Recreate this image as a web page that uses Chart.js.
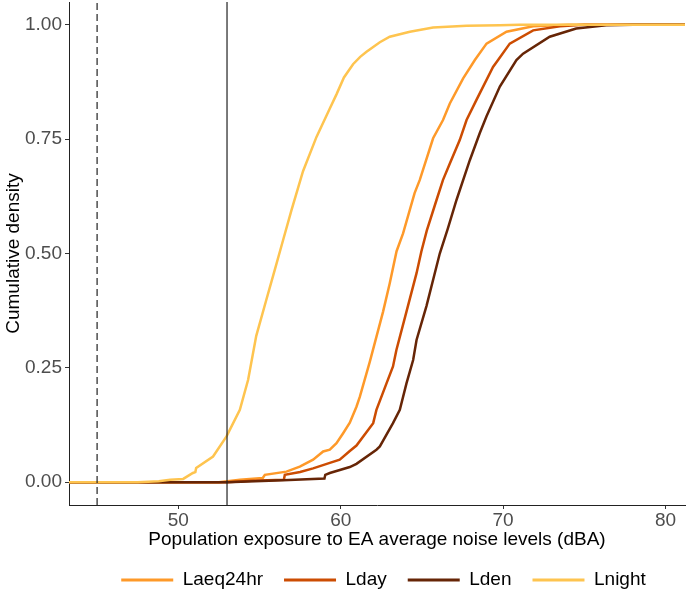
<!DOCTYPE html>
<html>
<head>
<meta charset="utf-8">
<script src="https://cdn.jsdelivr.net/npm/chart.js@4.4.1/dist/chart.umd.min.js"></script>
<style>
  html, body { margin: 0; padding: 0; background: #fff; }
</style>
</head>
<body>
<canvas id="ecdfChart" width="688" height="594"></canvas>
<script>
// series (x = dBA, y = cumulative density)
const seriesNames = ['Laeq24hr', 'Lday', 'Lden', 'Lnight'];
const seriesColors = ['#FE9929', '#CC4C02', '#662506', '#FEC44F'];

const laeqX = [43, 52.5, 53.8, 55.2, 55.33, 56.66, 57.48, 58.3, 58.92, 59.33, 59.74, 60.15, 60.56, 60.97, 61.18, 61.79, 62.61, 63.02, 63.44, 63.84, 64.55, 64.87, 65.69, 66.3, 66.72, 67.54, 68.26, 68.98, 70.21, 71.85, 74, 82];
const laeqY = [0, 0, 0.005, 0.009, 0.016, 0.023, 0.034, 0.049, 0.067, 0.071, 0.085, 0.107, 0.13, 0.165, 0.187, 0.263, 0.373, 0.435, 0.505, 0.544, 0.632, 0.661, 0.752, 0.792, 0.828, 0.883, 0.923, 0.959, 0.985, 0.997, 1, 1];

const ldayX = [43, 53, 54.5, 56.5, 56.56, 57.5, 58.3, 59.33, 59.94, 60.56, 60.97, 62.0, 62.2, 62.82, 63.22, 63.43, 64.05, 64.67, 64.97, 65.3, 65.9, 66.3, 66.72, 67.33, 67.75, 68.36, 69.38, 69.69, 70.41, 71.85, 73.5, 75, 82];
const ldayY = [0, 0, 0.003, 0.005, 0.016, 0.022, 0.03, 0.042, 0.049, 0.068, 0.08, 0.129, 0.158, 0.216, 0.253, 0.289, 0.373, 0.457, 0.505, 0.55, 0.617, 0.661, 0.697, 0.748, 0.792, 0.836, 0.908, 0.923, 0.959, 0.988, 0.997, 1, 1];

const ldenX = [43, 53, 56.45, 59.0, 59.05, 59.33, 60.56, 60.97, 62.2, 62.41, 63.22, 63.64, 64.05, 64.46, 64.67, 65.28, 66.1, 66.6, 67.13, 67.95, 68.56, 68.98, 69.8, 70.82, 71.23, 72.87, 74.5, 76.35, 78, 82];
const ldenY = [0, 0, 0.004, 0.008, 0.016, 0.02, 0.033, 0.04, 0.071, 0.078, 0.129, 0.158, 0.216, 0.267, 0.311, 0.385, 0.5, 0.555, 0.617, 0.704, 0.763, 0.8, 0.865, 0.923, 0.937, 0.974, 0.992, 0.999, 1, 1];

const lnightX = [43, 47.5, 48.8, 49.5, 50.3, 50.9, 51.05, 51.1, 52.14, 52.97, 53.79, 54.3, 54.8, 55.43, 55.94, 56.45, 56.97, 57.68, 58.51, 59.33, 59.74, 60.2, 60.76, 61.2, 61.59, 62.41, 63.02, 64.26, 65.69, 67.75, 69.8, 71, 82];
const lnightY = [0, 0, 0.002, 0.005, 0.007, 0.02, 0.022, 0.031, 0.056, 0.1, 0.158, 0.224, 0.32, 0.4, 0.464, 0.529, 0.595, 0.68, 0.755, 0.817, 0.848, 0.885, 0.914, 0.93, 0.941, 0.962, 0.974, 0.985, 0.994, 0.998, 0.999, 1, 1];

const xTicks = [50, 60, 70, 80];
const yTicks = [0, 0.25, 0.5, 0.75, 1];
const dashedRef = 45;
const solidRef = 53;

const xMin = 43.27, xMax = 81.2;
const yMin = -0.05, yMax = 1.05;
const FONT = "'Liberation Sans', Arial, Helvetica, sans-serif";

function toPoints(xs, ys) {
    return xs.map((x, i) => ({ x: x, y: ys[i] }));
}

const allX = [laeqX, ldayX, ldenX, lnightX];
const allY = [laeqY, ldayY, ldenY, lnightY];

const datasets = seriesNames.map((name, i) => ({
    label: name,
    data: toPoints(allX[i], allY[i]),
    borderColor: seriesColors[i],
    backgroundColor: seriesColors[i],
    borderWidth: 2.5,
    pointRadius: 0,
    showLine: true,
    tension: 0,
    order: 4 - i
}));

datasets.push({
    label: 'ref45',
    data: [{ x: dashedRef, y: yMin }, { x: dashedRef, y: yMax }],
    borderColor: '#222',
    borderWidth: 1.2,
    borderDash: [7, 4],
    pointRadius: 0,
    showLine: true,
    order: 0
});
datasets.push({
    label: 'ref53',
    data: [{ x: solidRef, y: yMin }, { x: solidRef, y: yMax }],
    borderColor: '#222',
    borderWidth: 1.2,
    pointRadius: 0,
    showLine: true,
    order: 0
});

// nudge the legend to where ggplot put it
const legendShift = {
    id: 'legendShift',
    afterLayout(chart) {
        const lg = chart.legend;
        lg.left += 41; lg.right += 41;
        lg.top += 5.5; lg.bottom += 5.5;
    }
};

const ctx = document.getElementById('ecdfChart').getContext('2d');
new Chart(ctx, {
    type: 'scatter',
    data: { datasets: datasets },
    plugins: [legendShift],
    options: {
        responsive: false,
        animation: false,
        layout: { padding: { top: 2, right: 3, left: 0, bottom: 0 } },
        plugins: {
            tooltip: { enabled: false },
            legend: {
                position: 'bottom',
                labels: {
                    boxWidth: 52,
                    boxHeight: 3,
                    padding: 21,
                    color: '#000',
                    font: { family: FONT, size: 19 },
                    sort: (a, b) => a.datasetIndex - b.datasetIndex,
                    generateLabels: chart => Chart.defaults.plugins.legend.labels.generateLabels(chart)
                        .filter(l => l.datasetIndex < seriesNames.length)
                        .map(l => Object.assign(l, { lineWidth: 0, fillStyle: l.strokeStyle }))
                }
            }
        },
        scales: {
            x: {
                type: 'linear',
                min: xMin,
                max: xMax,
                afterBuildTicks: s => { s.ticks = xTicks.map(v => ({ value: v })); },
                afterFit: s => { s.height = 39; s.paddingLeft = 0; s.paddingRight = 0; },
                ticks: { color: '#4d4d4d', padding: 0, maxRotation: 0, font: { family: FONT, size: 19 } },
                grid: { drawOnChartArea: false, tickLength: 4, tickColor: '#333', tickWidth: 1 },
                border: { color: '#222', width: 1 },
                title: {
                    display: true,
                    text: 'Population exposure to EA average noise levels (dBA)',
                    color: '#000',
                    font: { family: FONT, size: 19 },
                    padding: { top: 0, bottom: -7 }
                }
            },
            y: {
                type: 'linear',
                min: yMin,
                max: yMax,
                afterBuildTicks: s => { s.ticks = yTicks.map(v => ({ value: v })); },
                afterFit: s => { s.width = 69; s.paddingTop = 0; s.paddingBottom = 0; },
                ticks: { color: '#4d4d4d', padding: 3, font: { family: FONT, size: 19 }, callback: v => v.toFixed(2) },
                grid: { drawOnChartArea: false, tickLength: 4, tickColor: '#333', tickWidth: 1 },
                border: { color: '#222', width: 1 },
                title: {
                    display: true,
                    text: 'Cumulative density',
                    color: '#000',
                    font: { family: FONT, size: 19 },
                    padding: { top: 2, bottom: 0 }
                }
            }
        }
    }
});
</script>
</body>
</html>
